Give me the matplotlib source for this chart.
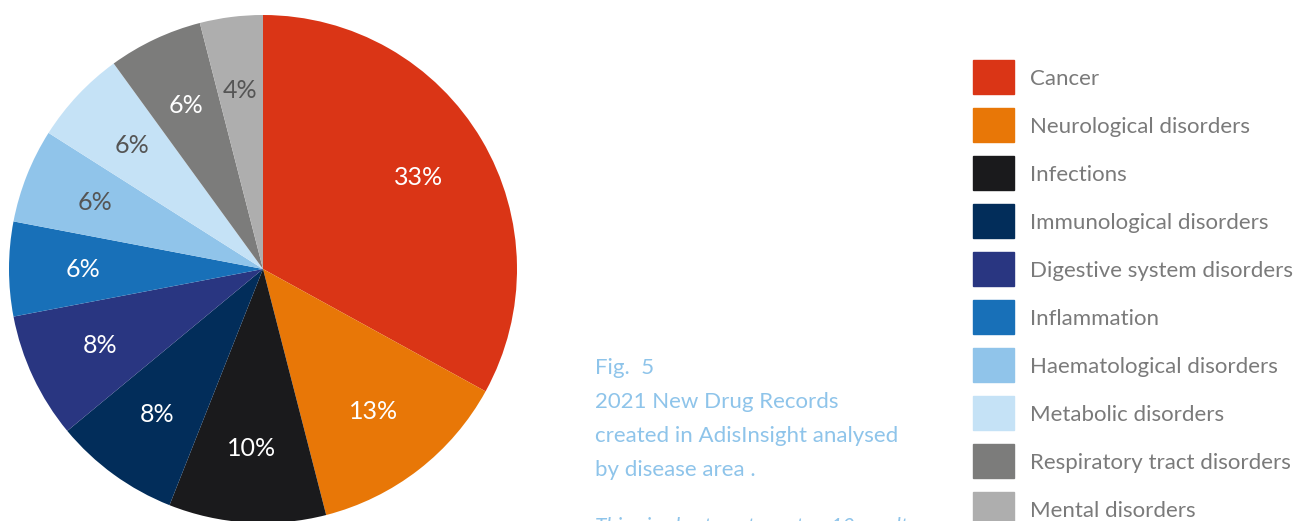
import matplotlib.pyplot as plt
from matplotlib.patches import Rectangle

plt.rcParams['font.family'] = ['Lato', 'DejaVu Sans']

areas = ['Cancer', 'Neurological disorders', 'Infections', 'Immunological disorders',
         'Digestive system disorders', 'Inflammation', 'Haematological disorders',
         'Metabolic disorders', 'Respiratory tract disorders', 'Mental disorders']
shares = [33, 13, 10, 8, 8, 6, 6, 6, 6, 4]
colors = ['#DA3516', '#E87707', '#1A1A1C', '#022D5A', '#293681',
          '#1870B8', '#90C4EA', '#C5E2F6', '#7C7C7B', '#AEAEAE']
label_colors = ['white', 'white', 'white', 'white', 'white',
                'white', '#555555', '#555555', 'white', '#555555']

caption = ['Fig.  5', '2021 New Drug Records', 'created in AdisInsight analysed', 'by disease area .']
note = 'This pie chart captures top 10 results'

W, H = 1303, 521
fig = plt.figure(figsize=(W / 100, H / 100), dpi=100)

# pie
ax = fig.add_axes([9 / W, -2 / H, 508 / W, 508 / H])
wedges, texts, autotexts = ax.pie(shares, colors=colors, startangle=90, counterclock=False,
                                  autopct='%d%%', pctdistance=0.71,
                                  textprops={'fontsize': 18})
for t, c in zip(autotexts, label_colors):
    t.set_color(c)
ax.set_xlim(-1, 1)
ax.set_ylim(-1, 1)
ax.set_aspect('equal')
ax.axis('off')

# caption
for i, line in enumerate(caption):
    fig.text(595 / W, 1 - (368 + i * 34) / H, line, color='#8EC4EA', fontsize=16,
             va='center', ha='left')
fig.text(595 / W, 1 - 527 / H, note, color='#8EC4EA', fontsize=15, style='italic',
         va='center', ha='left')

# legend
for i, (name, c) in enumerate(zip(areas, colors)):
    yc = 77 + i * 48
    fig.patches.append(Rectangle((973 / W, 1 - (yc + 17) / H), 41 / W, 34 / H,
                                 transform=fig.transFigure, color=c, figure=fig))
    fig.text(1030 / W, 1 - (yc + 2) / H, name, color='#7A7A7A', fontsize=16,
             va='center', ha='left')

fig.savefig('out.png', dpi=100)
